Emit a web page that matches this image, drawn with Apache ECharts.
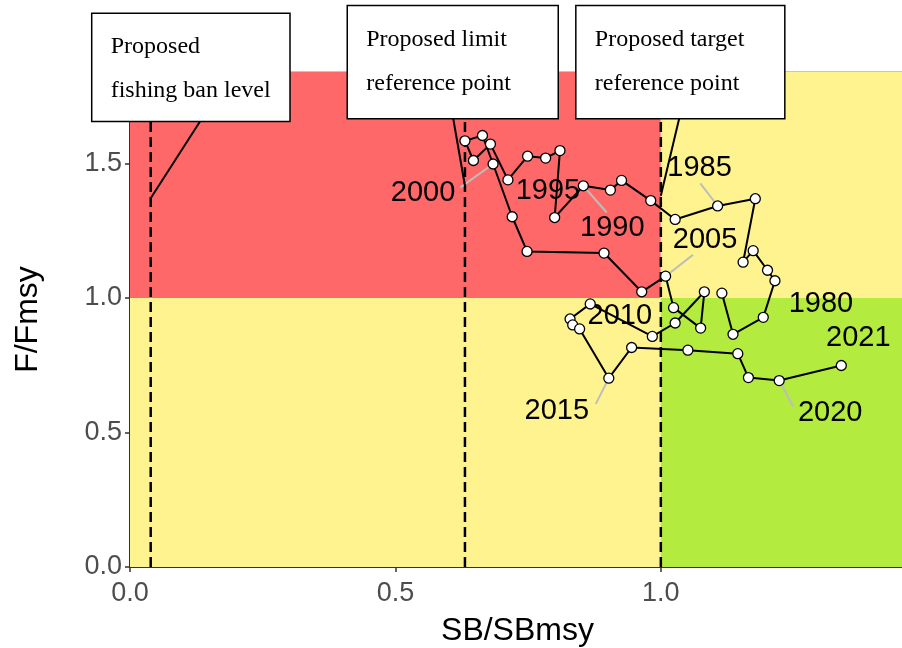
<!DOCTYPE html>
<html>
<head>
<meta charset="utf-8">
<script src="https://cdn.jsdelivr.net/npm/echarts@6/dist/echarts.min.js"></script>
<style>
  html, body { margin: 0; padding: 0; background: #ffffff; }
  #chart { width: 902px; height: 648px; }
</style>
</head>
<body>
<div id="chart"></div>
<script>
// Stock trajectory: spawning biomass and fishing mortality relative to MSY levels
const years = [1977,1978,1979,1980,1981,1982,1983,1984,1985,1986,
               1987,1988,1989,1990,1991,1992,1993,1994,1995,1996,
               1997,1998,1999,2000,2001,2002,2003,2004,2005,2006,
               2007,2008,2009,2010,2011,2012,2013,2014,2015,2016,
               2017,2018,2019,2020,2021];
const sbRatio = [1.115,1.136,1.193,1.215,1.201,1.174,1.155,1.178,1.107,1.027,
                 0.981,0.926,0.905,0.854,0.800,0.810,0.783,0.749,0.712,0.679,
                 0.647,0.631,0.664,0.684,0.720,0.748,0.893,0.964,1.009,1.024,
                 1.075,1.082,1.027,0.984,0.867,0.829,0.834,0.847,0.902,0.945,
                 1.051,1.145,1.165,1.223,1.340];
const fRatio = [1.018,0.865,0.928,1.064,1.103,1.176,1.133,1.369,1.342,1.292,
                1.362,1.437,1.401,1.417,1.299,1.548,1.520,1.527,1.439,1.572,
                1.511,1.584,1.604,1.498,1.302,1.173,1.167,1.023,1.081,0.964,
                0.888,1.023,0.907,0.857,0.978,0.922,0.900,0.885,0.702,0.816,
                0.806,0.793,0.704,0.693,0.749];
const labelledYears = [1980,1985,1990,1995,2000,2005,2010,2015,2020,2021];

// Reference points on the SB/SBmsy axis and where each callout meets its line
const refNames = ['Proposed\nfishing ban level', 'Proposed limit\nreference point', 'Proposed target\nreference point'];
const refSB = [0.039, 0.631, 1.0];
const refCalloutF = [1.371, 1.417, 1.380];

const xTicks = [0, 0.5, 1.0];
const yTicks = [0, 0.5, 1.0, 1.5];

// Axis extents and the status zone boundaries
const X_MAX = 1.46;
const Y_MAX = 1.84;
const SB_TARGET = 1.0;
const F_TARGET = 1.0;

const COLORS = { red: '#FF6868', yellow: '#FFF38F', green: '#B3EB3F' };
const SANS = 'Liberation Sans, Arial, sans-serif';
const SERIF = 'Liberation Serif, Times New Roman, serif';

// Status zones: [sbFrom, fFrom, sbTo, fTo, colour]
const zones = [
  [0, F_TARGET, SB_TARGET, Y_MAX, COLORS.red],
  [0, 0, SB_TARGET, F_TARGET, COLORS.yellow],
  [SB_TARGET, F_TARGET, X_MAX, Y_MAX, COLORS.yellow],
  [SB_TARGET, 0, X_MAX, F_TARGET, COLORS.green]
];

// Placement of year labels relative to their point (pixels); seg = end of leader line
const yearLabelPlacement = {
  1980: { dx: 46, dy: 22 },
  1985: { dx: -18, dy: -39, seg: [-17.3, -22.7] },
  1990: { dx: 29, dy: 41, seg: [23.4, 26.7] },
  1995: { dx: 40, dy: 10 },
  2000: { dx: -70, dy: 28, seg: [-32.6, 23.4] },
  2005: { dx: 39.5, dy: -37, seg: [27.3, -21.3] },
  2010: { dx: -32.5, dy: -21.5 },
  2015: { dx: -52, dy: 32, seg: [-13, 25.7] },
  2020: { dx: 51, dy: 31, seg: [14, 26] },
  2021: { dx: 17, dy: -29 }
};

// Callout box geometry relative to the anchor on each reference line (pixels)
const calloutLayout = [
  { box: [-59, -185, 139.3, -76.6], seg: [49.3, -76.6] },
  { box: [-117.7, -180.3, 93.3, -67], seg: [-11.7, -67] },
  { box: [-85, -190.3, 124, -77], seg: [18.3, -77] }
];

const trajectory = years.map((y, i) => [sbRatio[i], fRatio[i], y]);
const labelData = labelledYears.map(y => {
  const i = years.indexOf(y);
  return [sbRatio[i], fRatio[i], y];
});
const refData = refSB.map((x, i) => [x, refCalloutF[i], i]);

const chart = echarts.init(document.getElementById('chart'), null, { renderer: 'canvas' });

chart.setOption({
  animation: false,
  backgroundColor: '#ffffff',
  grid: {
    left: 130, top: 72, width: 775, height: 495,
    outerBoundsMode: 'none', containLabel: false,
    show: true, borderColor: '#8a8a8a', borderWidth: 1, backgroundColor: 'transparent'
  },
  xAxis: {
    type: 'value', min: 0, max: X_MAX,
    name: 'SB/SBmsy', nameLocation: 'middle', nameGap: 48,
    nameTextStyle: { fontFamily: SANS, fontSize: 32, color: '#000000' },
    axisLine: { lineStyle: { color: '#000000', width: 1.5 } },
    axisTick: { customValues: xTicks, length: 5, lineStyle: { color: '#333333', width: 1.5 } },
    axisLabel: {
      customValues: xTicks, margin: 13,
      formatter: v => v.toFixed(1),
      fontFamily: SANS, fontSize: 27, color: '#4d4d4d'
    },
    splitLine: { show: false }
  },
  yAxis: {
    type: 'value', min: 0, max: Y_MAX,
    name: 'F/Fmsy', nameLocation: 'middle', nameGap: 86, nameRotate: 90,
    nameTextStyle: { fontFamily: SANS, fontSize: 32, color: '#000000' },
    axisLine: { lineStyle: { color: '#000000', width: 1.5 } },
    axisTick: { customValues: yTicks, length: 5, lineStyle: { color: '#333333', width: 1.5 } },
    axisLabel: {
      customValues: yTicks, margin: 8,
      formatter: v => v.toFixed(1),
      fontFamily: SANS, fontSize: 27, color: '#4d4d4d'
    },
    splitLine: { show: false }
  },
  series: [
    {
      // coloured status zones
      type: 'custom', z: 1, silent: true,
      data: zones,
      encode: { x: [0, 2], y: [1, 3] },
      renderItem: (params, api) => {
        const p0 = api.coord([api.value(0), api.value(3)]);
        const p1 = api.coord([api.value(2), api.value(1)]);
        return {
          type: 'rect',
          shape: { x: p0[0], y: p0[1], width: p1[0] - p0[0], height: p1[1] - p0[1] },
          style: { fill: zones[params.dataIndex][4] }
        };
      }
    },
    {
      // dashed reference lines
      type: 'custom', z: 2, silent: true,
      data: refSB.map(x => [x]),
      encode: { x: 0 },
      renderItem: (params, api) => {
        const a = api.coord([api.value(0), 0]);
        const b = api.coord([api.value(0), Y_MAX]);
        return {
          type: 'line',
          shape: { x1: a[0], y1: a[1], x2: b[0], y2: b[1] },
          style: { stroke: '#000000', lineWidth: 2.5, lineDash: [10, 5] }
        };
      }
    },
    {
      // year labels with leader lines
      type: 'custom', z: 3, silent: true,
      data: labelData,
      encode: { x: 0, y: 1 },
      renderItem: (params, api) => {
        const p = api.coord([api.value(0), api.value(1)]);
        const place = yearLabelPlacement[api.value(2)];
        const children = [];
        if (place.seg) {
          children.push({
            type: 'line',
            shape: { x1: p[0], y1: p[1], x2: p[0] + place.seg[0], y2: p[1] + place.seg[1] },
            style: { stroke: '#bdbdbd', lineWidth: 2 }
          });
        }
        children.push({
          type: 'text',
          style: {
            x: p[0] + place.dx, y: p[1] + place.dy + 1,
            text: String(api.value(2)),
            font: '29px ' + SANS,
            fill: '#000000', align: 'center', verticalAlign: 'middle'
          }
        });
        return { type: 'group', children };
      }
    },
    {
      // stock trajectory
      type: 'line', z: 4,
      data: trajectory,
      showSymbol: true, symbol: 'circle', symbolSize: 10,
      lineStyle: { color: '#000000', width: 2 },
      itemStyle: { color: '#ffffff', borderColor: '#000000', borderWidth: 1.3 },
      emphasis: { disabled: true }
    },
    {
      // callout boxes for the reference points
      type: 'custom', z: 6, silent: true, clip: false,
      data: refData,
      encode: { x: 0, y: 1 },
      renderItem: (params, api) => {
        const p = api.coord([api.value(0), api.value(1)]);
        const lay = calloutLayout[api.value(2)];
        const lines = refNames[api.value(2)].split('\n');
        const x0 = p[0] + lay.box[0], y0 = p[1] + lay.box[1];
        const x1 = p[0] + lay.box[2], y1 = p[1] + lay.box[3];
        return {
          type: 'group',
          children: [
            {
              type: 'line',
              shape: { x1: p[0], y1: p[1], x2: p[0] + lay.seg[0], y2: p[1] + lay.seg[1] },
              style: { stroke: '#000000', lineWidth: 2 }
            },
            {
              type: 'rect',
              shape: { x: x0, y: y0, width: x1 - x0, height: y1 - y0 },
              style: { fill: '#ffffff', stroke: '#000000', lineWidth: 1.5 }
            },
            {
              type: 'text',
              style: { x: x0 + 19, y: y0 + 34, text: lines[0], font: '24px ' + SERIF,
                       fill: '#000000', align: 'left', verticalAlign: 'middle' }
            },
            {
              type: 'text',
              style: { x: x0 + 19, y: y0 + 78, text: lines[1], font: '24px ' + SERIF,
                       fill: '#000000', align: 'left', verticalAlign: 'middle' }
            }
          ]
        };
      }
    }
  ]
});
</script>
</body>
</html>
